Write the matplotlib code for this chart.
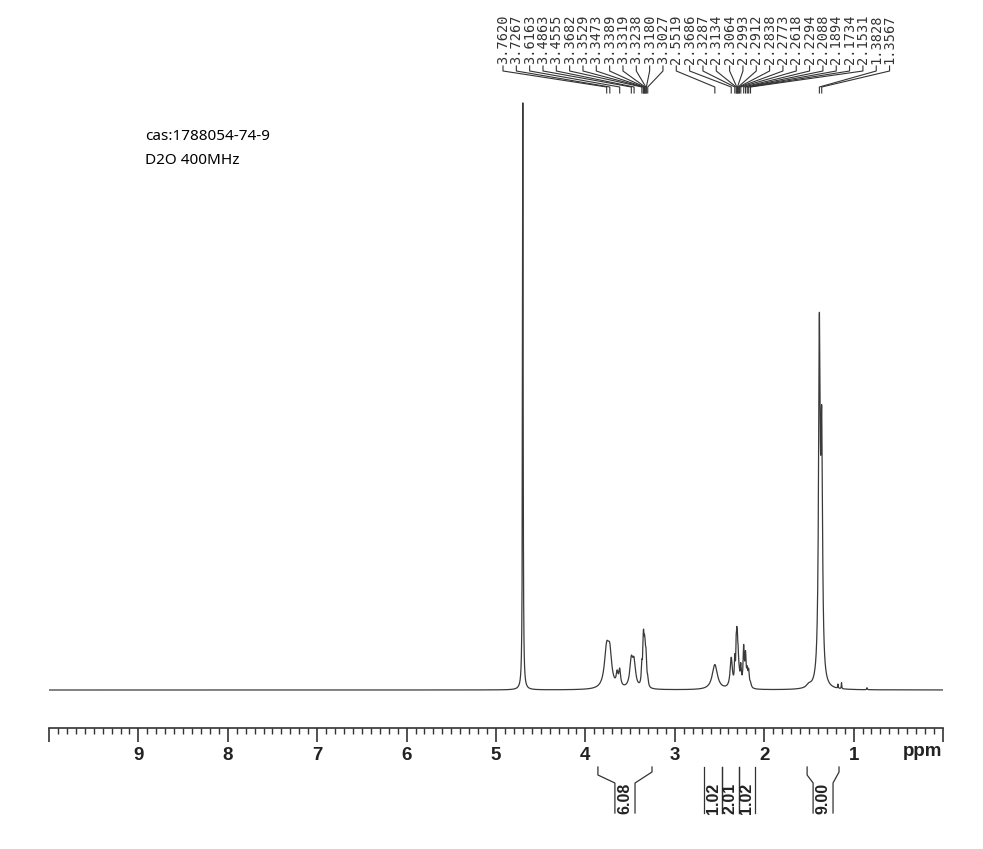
import numpy as np
import matplotlib.pyplot as plt
from matplotlib.ticker import MultipleLocator, FixedLocator

# peak table: position (ppm), height, half width (ppm)
peak_ppm = [4.700,
            3.7620, 3.7267, 3.6450, 3.6163, 3.4863, 3.4555, 3.3682, 3.3529,
            3.3473, 3.3389, 3.3319, 3.3238, 3.3180, 3.3027,
            2.5519, 2.3686, 2.3287, 2.3134, 2.3064, 2.2993, 2.2912, 2.2838,
            2.2773, 2.2618, 2.2294, 2.2088, 2.1894, 2.1734, 2.1531,
            1.500, 1.3828, 1.3567, 1.175, 1.135, 0.850]
peak_height = [587,
               38, 30, 12, 16, 26, 24, 20, 30,
               26, 26, 22, 18, 16, 8,
               25, 30, 25, 32, 34, 32, 24, 8,
               6, 20, 38, 30, 14, 15, 4,
               3, 342, 232, 4, 6, 2]
peak_width = [0.004,
              0.03, 0.025, 0.012, 0.012, 0.02, 0.02, 0.008, 0.006,
              0.006, 0.006, 0.006, 0.006, 0.006, 0.008,
              0.035, 0.015, 0.006, 0.005, 0.005, 0.005, 0.005, 0.005,
              0.005, 0.008, 0.008, 0.008, 0.008, 0.008, 0.01,
              0.03, 0.011, 0.011, 0.003, 0.003, 0.004]

# labelled peaks (top of the chart)
label_ppm = ['3.7620', '3.7267', '3.6163', '3.4863', '3.4555', '3.3682', '3.3529',
             '3.3473', '3.3389', '3.3319', '3.3238', '3.3180', '3.3027',
             '2.5519', '2.3686', '2.3287', '2.3134', '2.3064', '2.2993', '2.2912',
             '2.2838', '2.2773', '2.2618', '2.2294', '2.2088', '2.1894', '2.1734',
             '2.1531', '1.3828', '1.3567']

# integrals: region edges (ppm) and values
integ_left = [3.86, 2.673, 2.472, 2.282, 1.52]
integ_right = [3.255, 2.472, 2.282, 2.103, 1.163]
integ_value = ['6.08', '1.02', '2.01', '1.02', '9.00']
integ_inset = [0.19, 0.0, 0.0, 0.0, 0.067]

ppm = np.linspace(0, 10, 40001)
spec = np.zeros_like(ppm)
for p0, h, w in zip(peak_ppm, peak_height, peak_width):
    spec += h * w**2 / ((ppm - p0)**2 + w**2)

W, H = 983, 849
fig = plt.figure(figsize=(W / 100, H / 100), dpi=100)
ax = fig.add_axes([49 / W, (H - 728) / H, 894 / W, 718 / H])
ax.plot(ppm, spec, color='#3a3a3a', lw=0.9)
ax.set_xlim(10, 0)
ax.set_ylim(-38, 680)

for s in ['top', 'left', 'right']:
    ax.spines[s].set_visible(False)
ax.spines['bottom'].set_color('#333333')
ax.spines['bottom'].set_linewidth(1.2)
ax.set_yticks([])
ax.xaxis.set_major_locator(FixedLocator(range(0, 11)))
ax.xaxis.set_minor_locator(MultipleLocator(0.1))
ax.set_xticklabels(['' if t in (0, 10) else str(t) for t in range(0, 11)])
ax.tick_params(axis='x', which='major', length=10, width=1.2, color='#333333', pad=4,
               labelsize=13.5)
ax.tick_params(axis='x', which='minor', length=4, width=1, color='#333333')
for lab in ax.get_xticklabels():
    lab.set_fontfamily('Liberation Sans')
    lab.set_fontweight('bold')
    lab.set_color('#222222')
ax.text(0.23, -62, 'ppm', ha='center', va='center', fontsize=13.5, fontweight='bold',
        family='Liberation Sans', color='#222222', clip_on=False)

# peak labels with leader lines
px_per_ppm = 894 / 10
lab_start = (943 - 503) / px_per_ppm
lab_step = 13.33 / px_per_ppm
for i, t in enumerate(label_ppm):
    lx = lab_start - i * lab_step
    p = float(t)
    ax.text(lx, 626, t, rotation=90, ha='center', va='bottom', fontsize=9.8,
            family='DejaVu Sans Mono', color='#333333', clip_on=False)
    ax.plot([lx, lx, p, p], [624, 619, 603, 597], color='#333333', lw=0.8,
            clip_on=False)

# integral brackets
for a, b, v, d in zip(integ_left, integ_right, integ_value, integ_inset):
    ax.plot([a, a, a - d, a - d], [-77, -85, -93, -123], color='#333333',
            lw=0.9, clip_on=False)
    ax.plot([b, b, b + d, b + d], [-77, -82, -93, -123], color='#333333',
            lw=0.9, clip_on=False)
    ax.text((a + b) / 2, -124, v, rotation=90, ha='center', va='bottom', fontsize=11.5,
            fontweight='bold', family='Liberation Sans', color='#222222', clip_on=False)

fig.text(145 / W, 1 - 136 / H, 'cas:1788054-74-9', fontsize=11, family='Noto Sans',
         va='center', ha='left')
fig.text(145 / W, 1 - 161 / H, 'D2O 400MHz', fontsize=11, family='Noto Sans',
         va='center', ha='left')

fig.savefig('out.png', dpi=100)
